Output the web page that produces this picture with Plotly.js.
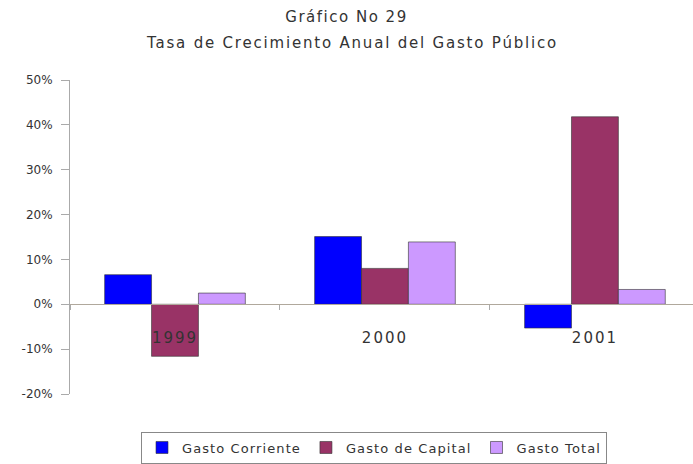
<!DOCTYPE html>
<html>
<head>
<meta charset="utf-8">
<script src="https://cdn.plot.ly/plotly-3.0.1.min.js"></script>
<style>
html,body{margin:0;padding:0;background:#fff;}
#chart{width:693px;height:464px;}
.gtitle{letter-spacing:1.5px;}
.annotation-text{letter-spacing:1.8px;}
.legendtext{letter-spacing:1.1px;}
.xtick text{letter-spacing:2px;}
</style>
</head>
<body>
<div id="chart"></div>
<script>
const years = ['1999', '2000', '2001'];
const gastoCorriente = [6.6, 15.1, -5.3];
const gastoCapital = [-11.6, 8.0, 41.8];
const gastoTotal = [2.5, 13.9, 3.3];
const yTicks = [-20, -10, 0, 10, 20, 30, 40, 50];
const yTickLabels = ['-20%', '-10%', '0%', '10%', '20%', '30%', '40%', '50%'];
const seriesNames = ['Gasto Corriente', 'Gasto de Capital', 'Gasto Total'];
const colors = ['#0000FF', '#993366', '#CC99FF'];

const values = [gastoCorriente, gastoCapital, gastoTotal];
const data = values.map((v, i) => ({
  type: 'bar',
  name: seriesNames[i],
  x: years,
  y: v,
  marker: {color: colors[i], line: {color: '#333333', width: 0.6}}
}));

const fam = 'DejaVu Sans, Verdana, sans-serif';
const txt = '#333';
const layout = {
  width: 693, height: 464,
  margin: {l: 70, r: 0, t: 80, b: 66},
  paper_bgcolor: '#fff', plot_bgcolor: '#fff',
  font: {family: fam, color: txt, size: 12},
  title: {text: 'Gráfico No 29', font: {family: fam, size: 15, color: txt},
          x: 0.5, xref: 'container', y: 1 - 17/464, yref: 'container', yanchor: 'middle'},
  annotations: [{text: 'Tasa de Crecimiento Anual del Gasto Público', xref: 'paper', yref: 'paper',
    x: (352 - 70) / 623, y: 1 + 37 / 318, xanchor: 'center', yanchor: 'middle', showarrow: false,
    font: {family: fam, size: 15, color: txt}}],
  barmode: 'group', bargap: 0.33, bargroupgap: 0,
  xaxis: {type: 'category', range: [-0.5, 2.467], anchor: 'free', position: 20/70,
    showline: true, linecolor: '#b0a89c', linewidth: 1, tickson: 'boundaries', ticks: 'outside',
    ticklen: 5, tickcolor: '#aaa', showgrid: false, zeroline: false, ticklabelstandoff: 20,
    tickfont: {family: fam, size: 15, color: txt}, fixedrange: true},
  yaxis: {range: [-20, 50], tickmode: 'array', tickvals: yTicks, ticktext: yTickLabels,
    showline: true, linecolor: '#aaa',
    linewidth: 1, ticks: 'outside', ticklen: 8, tickcolor: '#aaa', showgrid: false, zeroline: false,
    ticklabelstandoff: 6, tickfont: {family: fam, size: 12, color: txt}},
  legend: {orientation: 'h', x: (374 - 70) / 623, xanchor: 'center', y: -38/318, yanchor: 'top',
    bordercolor: '#888', borderwidth: 1, font: {family: fam, size: 13, color: txt},
    itemwidth: 30, tracegroupgap: 0}
};
Plotly.newPlot('chart', data, layout, {staticPlot: true});
</script>
</body>
</html>
